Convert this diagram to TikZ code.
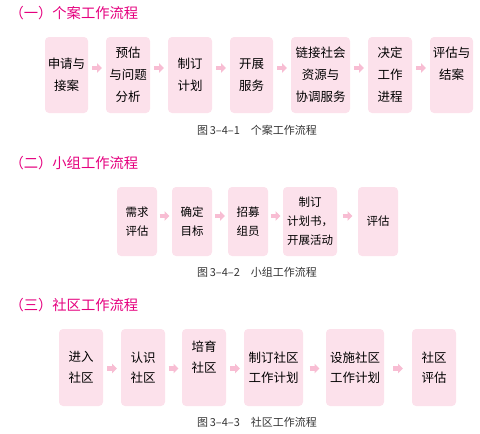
\documentclass[tikz,border=0pt]{standalone}
\usepackage{fontspec}
\setmainfont{Noto Sans CJK SC}
\usepackage{tikz}
\usetikzlibrary{arrows.meta}
\usetikzlibrary{calc}
\definecolor{boxpink}{HTML}{FCE1EB}
\definecolor{arrowpink}{HTML}{F8BDD3}
\definecolor{titlepink}{HTML}{E5007E}
\definecolor{captiongray}{HTML}{333333}
\tikzset{
  stepbox/.style={fill=boxpink, rounded corners=4pt, align=center, inner sep=0pt},
  flow/.style={draw=arrowpink, line width=4.5pt, -{Triangle[length=5pt, width=9.5pt]}},
  heading/.style={anchor=west, text=titlepink, font=\fontsize{14.3}{16}\selectfont},
  caption/.style={text=captiongray, font=\fontsize{11}{13}\selectfont}
}

\begin{document}
\begin{tikzpicture}[x=1pt, y=-1pt]
  \useasboundingbox (0,0) rectangle (480,434);

  % (一) 个案工作流程
  \node[heading] (TitleCase) at (6,13) {（一）个案工作流程};
  \begin{scope}[every node/.append style={minimum height=76pt, font=\fontsize{12.5}{22}\selectfont}]
    \node[stepbox, minimum width=43pt] (Intake) at (66.5,75) {申请与\\接案};
    \node[stepbox, minimum width=44pt] (Assess) at (128,75) {预估\\与问题\\分析};
    \node[stepbox, minimum width=44pt] (Plan) at (190,75) {制订\\计划};
    \node[stepbox, minimum width=43pt] (Serve) at (251.5,75) {开展\\服务};
    \node[stepbox, minimum width=59pt] (Link) at (320.5,75) {链接社会\\资源与\\协调服务};
    \node[stepbox, minimum width=44pt] (Decide) at (390,75) {决定\\工作\\进程};
    \node[stepbox, minimum width=43pt] (Review) at (451.5,75) {评估与\\结案\\\phantom{结}};
  \end{scope}
  \foreach \a/\b in {Intake/Assess, Assess/Plan, Plan/Serve, Serve/Link, Link/Decide, Decide/Review}
    \draw[flow] ($(\a.east)!0.5!(\b.west)+(-5,-7)$) -- ($(\a.east)!0.5!(\b.west)+(5,-7)$);
  \node[caption] (CapCase) at (257,130) {图\,3–4–1\quad 个案工作流程};

  % (二) 小组工作流程
  \node[heading] (TitleGroup) at (6,163) {（二）小组工作流程};
  \begin{scope}[every node/.append style={minimum height=69pt, font=\fontsize{11.5}{19}\selectfont}]
    \node[stepbox, minimum width=40pt] (Need) at (137,221.5) {需求\\评估};
    \node[stepbox, minimum width=40pt] (Goal) at (192,221.5) {确定\\目标};
    \node[stepbox, minimum width=40pt] (Recruit) at (248,221.5) {招募\\组员};
    \node[stepbox, minimum width=54pt] (Program) at (310,221.5) {制订\\计划书，\\开展活动};
    \node[stepbox, minimum width=40pt] (GroupEval) at (378,221.5) {评估};
  \end{scope}
  \foreach \a/\b in {Need/Goal, Goal/Recruit, Recruit/Program, Program/GroupEval}
    \draw[flow] ($(\a.east)!0.5!(\b.west)+(-5,-5.5)$) -- ($(\a.east)!0.5!(\b.west)+(5,-5.5)$);
  \node[caption] (CapGroup) at (257,272) {图\,3–4–2\quad 小组工作流程};

  % (三) 社区工作流程
  \node[heading] (TitleComm) at (6,305) {（三）社区工作流程};
  \begin{scope}[every node/.append style={minimum height=77pt, font=\fontsize{12.5}{20.5}\selectfont}]
    \node[stepbox, minimum width=44pt] (Enter) at (81,367.5) {进入\\社区};
    \node[stepbox, minimum width=44pt] (Know) at (143,367.5) {认识\\社区};
    \node[stepbox, minimum width=44pt] (Foster) at (204,367.5) {培育\\社区\\\phantom{社}};
    \node[stepbox, minimum width=59pt] (CommPlan) at (273.5,367.5) {制订社区\\工作计划};
    \node[stepbox, minimum width=58pt] (CommDo) at (355,367.5) {设施社区\\工作计划};
    \node[stepbox, minimum width=44pt] (CommEval) at (434,367.5) {社区\\评估};
  \end{scope}
  \foreach \a/\b in {Enter/Know, Know/Foster, Foster/CommPlan, CommPlan/CommDo, CommDo/CommEval}
    \draw[flow] ($(\a.east)!0.5!(\b.west)+(-5,1)$) -- ($(\a.east)!0.5!(\b.west)+(5,1)$);
  \node[caption] (CapComm) at (257,422) {图\,3–4–3\quad 社区工作流程};
\end{tikzpicture}
\end{document}
